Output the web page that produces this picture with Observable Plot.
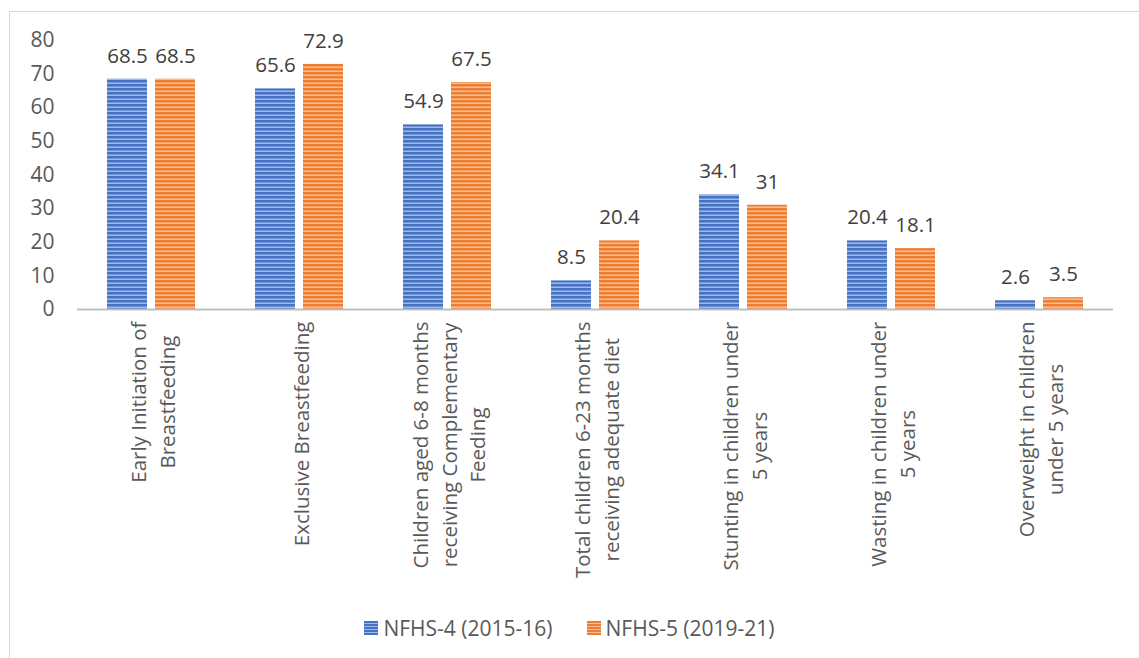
<!DOCTYPE html>
<html>
<head>
<meta charset="utf-8">
<script src="https://cdn.jsdelivr.net/npm/d3@7"></script>
<script src="https://cdn.jsdelivr.net/npm/@observablehq/plot@0.6"></script>
<style>
  html, body { margin: 0; padding: 0; background: #fff; }
  body { width: 1139px; height: 658px; position: relative; overflow: hidden; font-family: "Open Sans", sans-serif; }
  #frame { position: absolute; left: 9px; top: 11px; width: 1150px; height: 700px; border: 1.5px solid #d9d9d9; box-sizing: border-box; }
  #chart { position: absolute; left: 0; top: 0; }
  #legend { position: absolute; left: 0; top: 613px; width: 1139px; height: 30px; display: flex; justify-content: center; align-items: center; font-size: 21px; color: #595959; }
  .item { display: flex; align-items: center; margin: 0 17px; }
  .sw { width: 14px; height: 14px; margin-right: 5px; }
</style>
</head>
<body>
<div id="frame"></div>
<div id="chart"></div>
<div id="legend"></div>
<script>
const categories = [
  "Early Initiation of\nBreastfeeding",
  "Exclusive Breastfeeding",
  "Children aged 6-8 months\nreceiving Complementary\nFeeding",
  "Total children 6-23 months\nreceiving adequate diet",
  "Stunting in children under\n5 years",
  "Wasting in children under\n5 years",
  "Overweight in children\nunder 5 years"
];
const seriesNames = ["NFHS-4 (2015-16)", "NFHS-5 (2019-21)"];
const nfhs4 = [68.5, 65.6, 54.9, 8.5, 34.1, 20.4, 2.6];
const nfhs5 = [68.5, 72.9, 67.5, 20.4, 31, 18.1, 3.5];
const yTicks = [0, 10, 20, 30, 40, 50, 60, 70, 80];
const colors = ["#4472C4", "#ED7D31"];
const patternIds = ["stripeBlue", "stripeOrange"];

const data = [];
categories.forEach((c, i) => {
  data.push({category: c, series: seriesNames[0], value: nfhs4[i]});
  data.push({category: c, series: seriesNames[1], value: nfhs5[i]});
});
const fillFor = d => `url(#${patternIds[seriesNames.indexOf(d.series)]})`;

const plot = Plot.plot({
  width: 1139,
  height: 600,
  marginLeft: 75,
  marginRight: 24,
  marginTop: 40,
  marginBottom: 291,
  style: {fontFamily: "Open Sans, sans-serif", background: "transparent"},
  fx: {domain: categories, padding: 0, label: null},
  x: {domain: seriesNames, paddingInner: 0.17, paddingOuter: 0.6, axis: null},
  y: {domain: [0, 80], label: null},
  marks: [
    Plot.axisY({ticks: yTicks, tickSize: 0, tickPadding: 23, fontSize: 21, fill: "#595959", label: null}),
    Plot.axisFx({anchor: "bottom", tickSize: 0, tickPadding: 12, tickRotate: -90, fontSize: 20.5, fill: "#595959", textAnchor: "end", lineAnchor: "middle", lineHeight: 1.37, label: null}),
    Plot.barY(data, {fx: "category", x: "series", y: "value", fill: fillFor}),
    Plot.ruleY([0], {stroke: "#bfbfbf", strokeWidth: 2}),
    Plot.text(data, {fx: "category", x: "series", y: "value", text: d => String(d.value), dy: -23, fontSize: 20.5, fill: "#404040"})
  ]
});

// add stripe patterns
const ns = "http://www.w3.org/2000/svg";
const defs = document.createElementNS(ns, "defs");
patternIds.forEach((id, i) => {
  const p = document.createElementNS(ns, "pattern");
  p.setAttribute("id", id);
  p.setAttribute("patternUnits", "userSpaceOnUse");
  p.setAttribute("width", 8);
  p.setAttribute("height", 4);
  const r1 = document.createElementNS(ns, "rect");
  r1.setAttribute("width", 8); r1.setAttribute("height", 4); r1.setAttribute("fill", colors[i]);
  const r2 = document.createElementNS(ns, "rect");
  r2.setAttribute("y", 2.5); r2.setAttribute("width", 8); r2.setAttribute("height", 1.5); r2.setAttribute("fill", "#ffffff"); r2.setAttribute("fill-opacity", 0.5);
  p.appendChild(r1); p.appendChild(r2);
  defs.appendChild(p);
});
plot.insertBefore(defs, plot.firstChild);
document.getElementById("chart").appendChild(plot);

// center multi-line rotated category labels relative to each other
plot.querySelectorAll('[aria-label="fx-axis tick label"] text').forEach(t => {
  const spans = t.querySelectorAll("tspan");
  if (spans.length < 1) return;
  let maxLen = 0;
  spans.forEach(s => { maxLen = Math.max(maxLen, s.getComputedTextLength()); });
  t.setAttribute("text-anchor", "middle");
  spans.forEach(s => s.setAttribute("x", -maxLen / 2));
});

// legend
const legend = document.getElementById("legend");
seriesNames.forEach((name, i) => {
  const item = document.createElement("div");
  item.className = "item";
  const sw = document.createElement("div");
  sw.className = "sw";
  sw.style.background = `repeating-linear-gradient(to bottom, ${colors[i]} 0px, ${colors[i]} 2px, rgba(255,255,255,0.5) 2px, rgba(255,255,255,0.5) 3px), ${colors[i]}`;
  const label = document.createElement("span");
  label.textContent = name;
  item.appendChild(sw); item.appendChild(label);
  legend.appendChild(item);
});
</script>
</body>
</html>
